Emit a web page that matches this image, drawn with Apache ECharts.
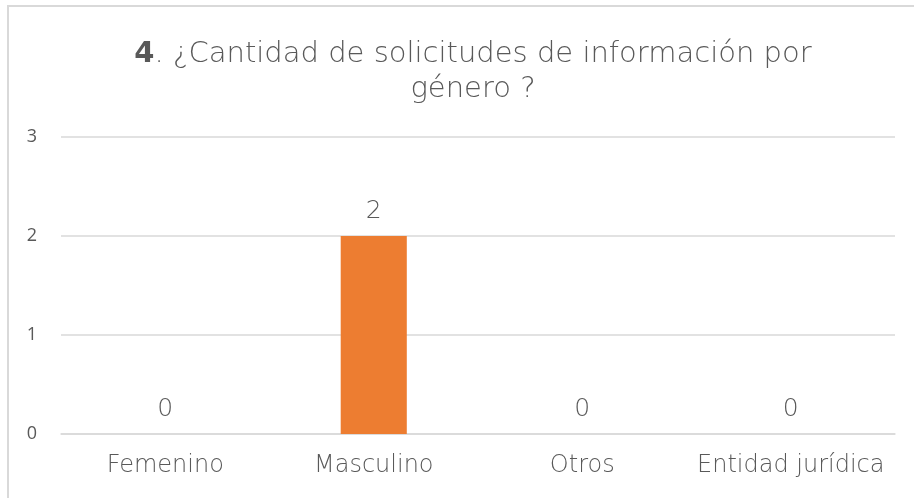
<!DOCTYPE html>
<html>
<head>
<meta charset="utf-8">
<script src="https://cdn.jsdelivr.net/npm/echarts@6/dist/echarts.min.js"></script>
<style>
  html, body { margin: 0; padding: 0; background: #fff; }
  #chart { width: 914px; height: 498px; }
</style>
</head>
<body>
<div id="chart"></div>
<script>
// Chart data
const categories = ['Femenino', 'Masculino', 'Otros', 'Entidad jurídica'];
const values = [0, 2, 0, 0];
const yTicks = { min: 0, max: 3, interval: 1 };

const chart = echarts.init(document.getElementById('chart'));
const textColor = '#595959';
const lightFont = '"DejaVu Sans ExtraLight", "DejaVu Sans", sans-serif';
const axisFont = '"Open Sans", sans-serif';

chart.setOption({
    backgroundColor: '#fff',
    title: {
        text: '{b|4}. ¿Cantidad de solicitudes de información por\ngénero ?',
        left: 468,
        top: 32,
        textAlign: 'center',
        textStyle: {
            color: textColor,
            fontSize: 29,
            fontWeight: 200,
            fontFamily: lightFont,
            lineHeight: 35,
            rich: {
                b: { fontSize: 29, fontWeight: 'bold', color: textColor, fontFamily: '"DejaVu Sans", sans-serif', lineHeight: 35 }
            }
        }
    },
    graphic: [{
        type: 'rect',
        shape: { x: 8, y: 6, width: 1000, height: 600 },
        style: { fill: 'none', stroke: '#d9d9d9', lineWidth: 2 },
        silent: true
    }],
    grid: { left: 61, right: 19, top: 137, bottom: 64, containLabel: false },
    xAxis: {
        type: 'category',
        data: categories,
        axisLine: { lineStyle: { color: '#d9d9d9', width: 1.5 } },
        axisTick: { show: false },
        axisLabel: {
            interval: 0, hideOverlap: false,
            color: textColor, fontSize: 24, fontWeight: 200, fontFamily: lightFont, margin: 20
        }
    },
    yAxis: {
        type: 'value',
        min: yTicks.min,
        max: yTicks.max,
        interval: yTicks.interval,
        axisLine: { show: false },
        axisTick: { show: false },
        axisLabel: { color: textColor, fontSize: 18, fontFamily: axisFont, margin: 24 },
        splitLine: { lineStyle: { color: '#d9d9d9', width: 1.5 } }
    },
    series: [{
        type: 'bar',
        data: values,
        barWidth: '31.7%',
        itemStyle: { color: '#ed7d31' },
        label: {
            show: true,
            position: 'top',
            distance: 12,
            color: textColor,
            fontSize: 25,
            fontWeight: 200,
            fontFamily: lightFont
        }
    }]
});
</script>
</body>
</html>
